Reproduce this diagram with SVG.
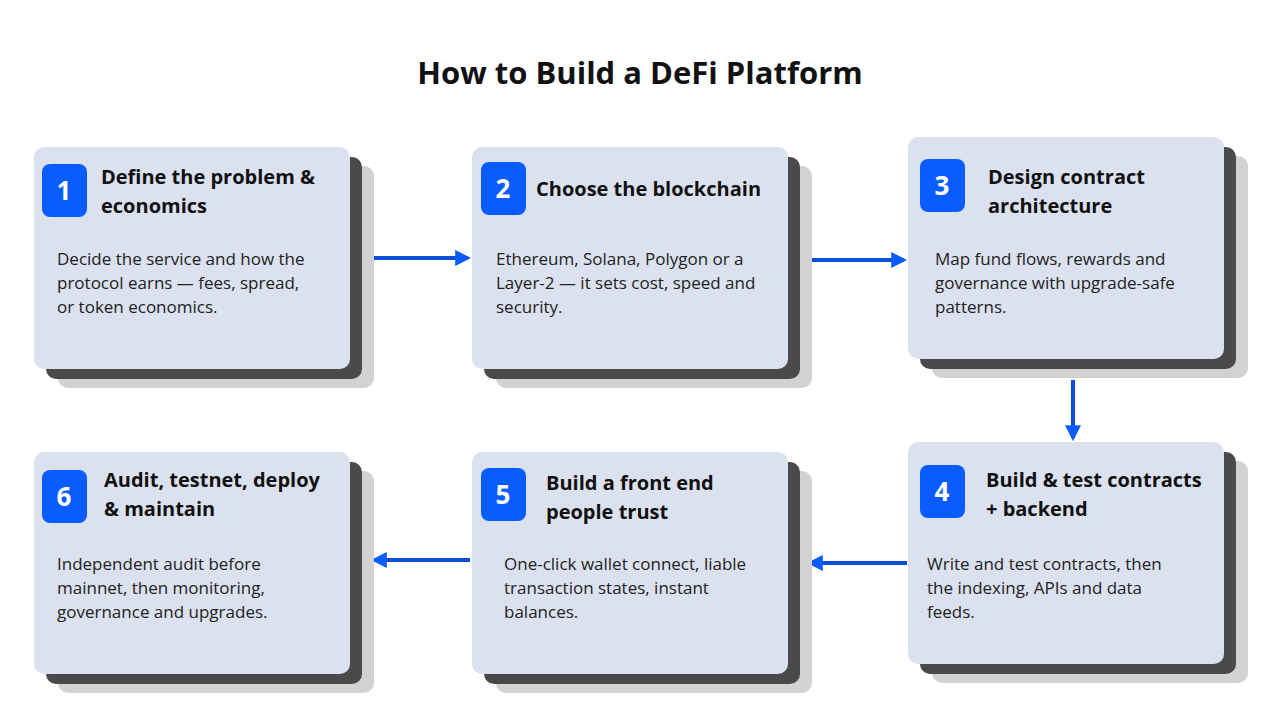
<svg xmlns="http://www.w3.org/2000/svg" width="1280" height="720" viewBox="0 0 1280 720">
<defs>
<style>
.s2{fill:#d2d2d2}.s1{fill:#4a4a4a}.c{fill:#dbe1ef}.b{fill:#0b5cff}
.n{font-family:"Open Sans","Liberation Sans",sans-serif;font-size:26px;font-weight:700;fill:#fff;text-anchor:middle}
.h{font-family:"Open Sans","Liberation Sans",sans-serif;font-size:20px;font-weight:700;fill:#111}
.t{font-family:"Open Sans","Liberation Sans",sans-serif;font-size:17px;fill:#222}
.a{stroke:#0b4fd8;stroke-width:4;fill:none;marker-end:url(#ah)}
</style>
<marker id="ah" viewBox="0 0 10 10" refX="8" refY="5" markerWidth="4" markerHeight="4" orient="auto"><path d="M0,0 L10,5 L0,10 z" fill="#0b5cff"/></marker>
</defs>
<rect width="1280" height="720" fill="#fff"/>
<text x="640" y="84" text-anchor="middle" font-family="'Open Sans','Liberation Sans',sans-serif" font-size="31" font-weight="700" fill="#111">How to Build a DeFi Platform</text>
<g id="connectors">
<path class="a" d="M355,258 H468"/>
<path class="a" d="M790,260 H904"/>
<path class="a" d="M1073,380 V438"/>
<path class="a" d="M907,563 H810"/>
<path class="a" d="M470,560 H374"/>
</g>
<g id="node1" transform="translate(34,147)">
<rect class="s2" x="24" y="19" width="316" height="222" rx="10"/><rect class="s1" x="12" y="10" width="316" height="222" rx="10"/><rect class="c" width="316" height="222" rx="10"/>
<rect class="b" x="8" y="17" width="45" height="53" rx="8"/><text class="n" x="30" y="53">1</text>
<text class="h" x="67" y="37">Define the problem &amp;</text><text class="h" x="67" y="66">economics</text>
<text class="t" x="23" y="118">Decide the service and how the</text><text class="t" x="23" y="142">protocol earns — fees, spread,</text><text class="t" x="23" y="166">or token economics.</text>
</g>
<g id="node2" transform="translate(472,147)">
<rect class="s2" x="24" y="19" width="316" height="222" rx="10"/><rect class="s1" x="12" y="10" width="316" height="222" rx="10"/><rect class="c" width="316" height="222" rx="10"/>
<rect class="b" x="9" y="15" width="45" height="53" rx="8"/><text class="n" x="31" y="51">2</text>
<text class="h" x="64" y="49">Choose the blockchain</text>
<text class="t" x="24" y="118">Ethereum, Solana, Polygon or a</text><text class="t" x="24" y="142">Layer-2 — it sets cost, speed and</text><text class="t" x="24" y="166">security.</text>
</g>
<g id="node3" transform="translate(908,137)">
<rect class="s2" x="24" y="19" width="316" height="222" rx="10"/><rect class="s1" x="12" y="10" width="316" height="222" rx="10"/><rect class="c" width="316" height="222" rx="10"/>
<rect class="b" x="12" y="22" width="45" height="53" rx="8"/><text class="n" x="34" y="58">3</text>
<text class="h" x="80" y="47">Design contract</text><text class="h" x="80" y="76">architecture</text>
<text class="t" x="27" y="128">Map fund flows, rewards and</text><text class="t" x="27" y="152">governance with upgrade-safe</text><text class="t" x="27" y="176">patterns.</text>
</g>
<g id="node4" transform="translate(908,442)">
<rect class="s2" x="24" y="19" width="316" height="222" rx="10"/><rect class="s1" x="12" y="10" width="316" height="222" rx="10"/><rect class="c" width="316" height="222" rx="10"/>
<rect class="b" x="12" y="23" width="45" height="53" rx="8"/><text class="n" x="34" y="59">4</text>
<text class="h" x="78" y="45">Build &amp; test contracts</text><text class="h" x="78" y="74">+ backend</text>
<text class="t" x="19" y="128">Write and test contracts, then</text><text class="t" x="19" y="152">the indexing, APIs and data</text><text class="t" x="19" y="176">feeds.</text>
</g>
<g id="node5" transform="translate(472,452)">
<rect class="s2" x="24" y="19" width="316" height="222" rx="10"/><rect class="s1" x="12" y="10" width="316" height="222" rx="10"/><rect class="c" width="316" height="222" rx="10"/>
<rect class="b" x="9" y="16" width="45" height="53" rx="8"/><text class="n" x="31" y="52">5</text>
<text class="h" x="74" y="38">Build a front end</text><text class="h" x="74" y="67">people trust</text>
<text class="t" x="32" y="118">One-click wallet connect, liable</text><text class="t" x="32" y="142">transaction states, instant</text><text class="t" x="32" y="166">balances.</text>
</g>
<g id="node6" transform="translate(34,452)">
<rect class="s2" x="24" y="19" width="316" height="222" rx="10"/><rect class="s1" x="12" y="10" width="316" height="222" rx="10"/><rect class="c" width="316" height="222" rx="10"/>
<rect class="b" x="8" y="18" width="45" height="53" rx="8"/><text class="n" x="30" y="54">6</text>
<text class="h" x="70" y="35">Audit, testnet, deploy</text><text class="h" x="70" y="64">&amp; maintain</text>
<text class="t" x="23" y="118">Independent audit before</text><text class="t" x="23" y="142">mainnet, then monitoring,</text><text class="t" x="23" y="166">governance and upgrades.</text>
</g>
</svg>
